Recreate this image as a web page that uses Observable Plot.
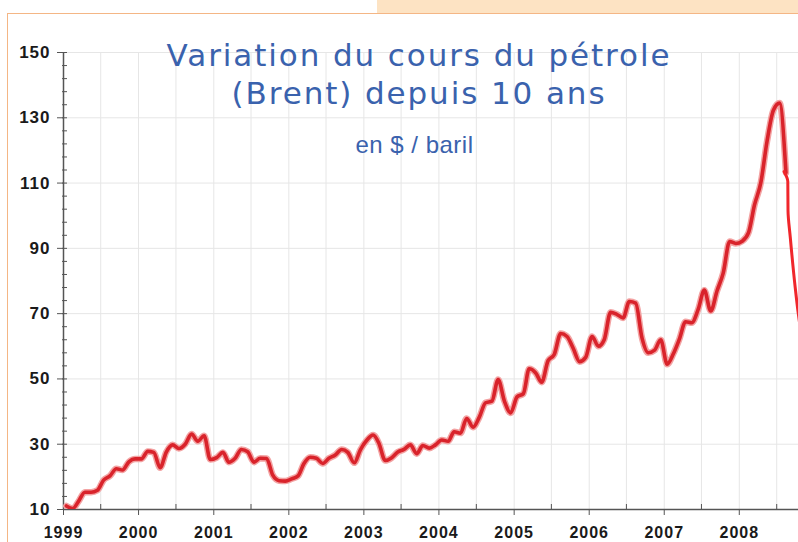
<!DOCTYPE html>
<html>
<head>
<meta charset="utf-8">
<script src="https://cdn.jsdelivr.net/npm/d3@7"></script>
<script src="https://cdn.jsdelivr.net/npm/@observablehq/plot@0.6"></script>
<style>
  html, body { margin: 0; padding: 0; background: #fff; }
  #wrap { position: relative; width: 798px; height: 542px; overflow: hidden; background: #fff; }
  #tab { position: absolute; left: 377px; top: 0; width: 430px; height: 13px; background: #fde3c3; }
  #frame { position: absolute; left: 7px; top: 13px; width: 820px; height: 560px;
           border-left: 1.5px solid #f4b685; border-top: 1.5px solid #f4b685; box-sizing: border-box; pointer-events: none; }
  #chart { position: absolute; left: 0; top: 0; }
  .title { position: absolute; left: 0; width: 838px; text-align: center; color: #3a62ad; white-space: nowrap; }
  #t1 { top: 36px; font: 31px/38px "DejaVu Sans", sans-serif; letter-spacing: 1.9px; }
  #t2 { top: 133px; width: 829px; font: 24px/24px "Liberation Sans", Arial, sans-serif; letter-spacing: 0.5px; }
</style>
</head>
<body>
<div id="wrap">
  <div id="tab"></div>
  <div id="chart"></div>
  <div id="frame"></div>
  <div class="title" id="t1">Variation du cours du pétrole<br>(Brent) depuis 10 ans</div>
  <div class="title" id="t2">en $ / baril</div>
</div>
<script>
// Monthly Brent averages (US$ / barrel), Jan..Dec
const years = [1999, 2000, 2001, 2002, 2003, 2004, 2005, 2006, 2007, 2008];
const p1999 = [11.1, 10.3, 12.5, 15.3, 15.3, 15.9, 19.0, 20.3, 22.5, 22.1, 24.6, 25.5];
const p2000 = [25.5, 27.8, 27.5, 22.8, 27.6, 29.8, 28.7, 30.0, 33.1, 30.9, 32.6, 25.3];
const p2001 = [25.9, 27.5, 24.5, 25.7, 28.4, 27.7, 24.5, 25.7, 25.6, 20.5, 18.8, 18.7];
const p2002 = [19.4, 20.3, 24.0, 26.0, 25.7, 24.1, 25.7, 26.7, 28.4, 27.5, 24.3, 28.3];
const p2003 = [31.2, 32.8, 30.3, 25.0, 25.8, 27.6, 28.4, 29.8, 27.1, 29.6, 28.8, 29.8];
const p2004 = [31.3, 30.9, 33.8, 33.4, 37.9, 35.2, 38.2, 42.7, 43.2, 49.8, 43.1, 39.6];
const p2005 = [44.5, 45.5, 53.1, 51.9, 49.0, 55.6, 57.5, 63.9, 63.0, 59.4, 55.3, 56.6];
const p2006 = [63.0, 60.0, 62.0, 70.4, 69.8, 68.7, 73.7, 73.2, 62.5, 58.0, 58.8, 62.0];
const p2007 = [54.5, 57.8, 62.1, 67.5, 67.2, 71.3, 77.2, 70.8, 77.0, 82.5, 92.1, 91.5];
const p2008 = [92.2, 94.8, 103.3, 110.2, 122.8, 132.3, 134.5, 113.2];
const yearlyPrices = [p1999, p2000, p2001, p2002, p2003, p2004, p2005, p2006, p2007, p2008];

// Hand-drawn continuation of the fall (autumn 2008)
const fallDates = ["2008-08-06", "2008-08-24", "2008-08-25", "2008-09-05", "2008-09-29", "2008-10-14", "2008-10-25"];
const fallPrices = [113.5, 110.5, 101.5, 93.4, 78.0, 70.0, 65.0];

// Axis ticks
const yTicks = [10, 30, 50, 70, 90, 110, 130, 150];
const yMinor = d3.range(10, 151, 4);
const xYearTicks = years;
const xDomain = ["1999-01-01", "2008-10-15"];

const monthly = [];
years.forEach((y, i) => yearlyPrices[i].forEach((v, m) => monthly.push({date: new Date(Date.UTC(y, m, 15)), price: v})));
const fall = fallDates.map((d, i) => ({date: new Date(d + "T00:00:00Z"), price: fallPrices[i]}));
const yearDates = xYearTicks.map(y => new Date(Date.UTC(y, 0, 1)));
const midDates = xYearTicks.map(y => new Date(Date.UTC(y, 6, 1)));
const gridDates = yearDates.concat(midDates);

const chart = Plot.plot({
  width: 798,
  height: 542,
  marginLeft: 63,
  marginRight: 0,
  marginTop: 52,
  marginBottom: 33,
  style: {background: "transparent", fontFamily: "'Liberation Sans', Arial, sans-serif", fontSize: "17px", fontWeight: "bold", letterSpacing: "1px", overflow: "visible"},
  x: {type: "utc", domain: xDomain.map(d => new Date(d + "T00:00:00Z")), label: null},
  y: {domain: [10, 150], label: null},
  marks: [
    Plot.gridX(gridDates, {stroke: "#e6e6e6", strokeOpacity: 1}),
    Plot.gridY(yTicks, {stroke: "#e6e6e6", strokeOpacity: 1}),
    Plot.ruleY([10], {stroke: "#555", strokeWidth: 1.5}),
    Plot.ruleX([yearDates[0]], {stroke: "#555", strokeWidth: 1.5}),
    Plot.axisY(yMinor, {tickSize: 5, dx: 4, tickFormat: () => "", stroke: "#555"}),
    Plot.axisY(yTicks, {tickSize: 6, tickPadding: 7, stroke: "#555", fill: "#1a1a1a", tickFormat: d => String(d)}),
    Plot.axisX(midDates, {tickSize: 5, dy: -5, tickFormat: () => "", stroke: "#555"}),
    Plot.axisX(yearDates, {tickSize: 6, tickPadding: 11, fontSize: 16, stroke: "#555", fill: "#1a1a1a", tickFormat: d => String(d.getUTCFullYear())}),
    Plot.line(monthly, {x: "date", y: "price", stroke: "#f3a3a3", strokeWidth: 6.5, curve: "monotone-x", clip: true}),
    Plot.line(monthly, {x: "date", y: "price", stroke: "#d9232b", strokeWidth: 3.6, curve: "monotone-x", clip: true}),
    Plot.line(fall, {x: "date", y: "price", stroke: "#f0262b", strokeWidth: 3, curve: "monotone-y", clip: true})
  ]
});
document.getElementById("chart").appendChild(chart);
</script>
</body>
</html>
